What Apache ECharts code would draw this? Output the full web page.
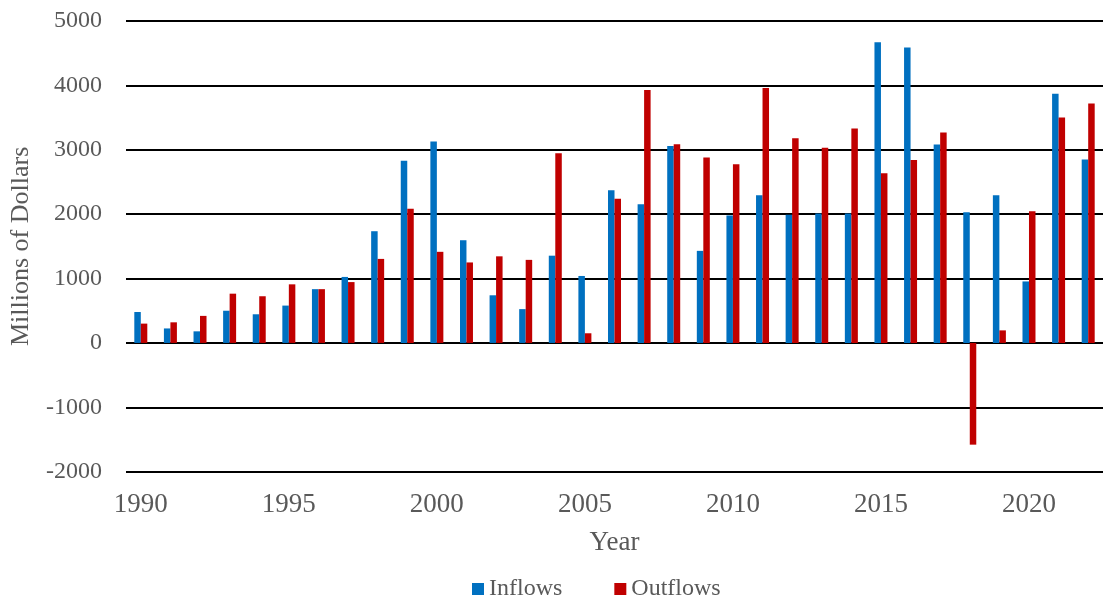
<!DOCTYPE html>
<html>
<head>
<meta charset="utf-8">
<script src="https://cdn.jsdelivr.net/npm/echarts@6/dist/echarts.min.js"></script>
<style>
  html, body { margin: 0; padding: 0; background: #ffffff; }
  #chart { width: 1103px; height: 599px; }
</style>
</head>
<body>
<div id="chart"></div>
<script>
// Annual flows, millions of dollars
const years = [];
for (let y = 1990; y <= 2022; y++) years.push(String(y));

const inflows = [480, 225, 180, 500, 445, 580, 835, 1025, 1735, 2830, 3130, 1595, 740, 525, 1355, 1040,
  2370, 2155, 3060, 1430, 1980, 2295, 1990, 2010, 2010, 4670, 4590, 3080, 2030, 2295, 955, 3870, 2850];
const outflows = [300, 320, 420, 765, 725, 910, 835, 945, 1305, 2085, 1415, 1250, 1345, 1290, 2945, 150,
  2240, 3930, 3085, 2880, 2775, 3960, 3180, 3030, 3330, 2635, 2840, 3270, -1580, 195, 2045, 3500, 3720];

const valueTicks = { min: -2000, max: 5000, interval: 1000 };

const textColor = '#595959';
const serif = '"Liberation Serif", "Times New Roman", serif';

const chart = echarts.init(document.getElementById('chart'), null, { renderer: 'canvas' });

chart.setOption({
  animation: false,
  backgroundColor: '#ffffff',
  textStyle: { fontFamily: serif, color: textColor },
  grid: { left: 123.7, top: 21, width: 986.7, bottom: 127.3, containLabel: false },
  legend: {
    data: ['Inflows', 'Outflows'],
    left: 467, top: 572,
    itemWidth: 12, itemHeight: 12, itemGap: 52,
    icon: 'rect',
    textStyle: { fontFamily: serif, fontSize: 24, color: textColor }
  },
  xAxis: {
    type: 'category',
    data: years,
    position: 'bottom',
    axisLine: { show: false, onZero: false },
    axisTick: { show: false },
    axisLabel: {
      interval: 4, margin: 20,
      fontFamily: serif, fontSize: 27, color: textColor
    },
    name: 'Year',
    nameLocation: 'middle',
    nameGap: 58,
    nameTextStyle: { fontFamily: serif, fontSize: 27, color: textColor },
    splitLine: { show: false }
  },
  yAxis: {
    type: 'value',
    min: valueTicks.min, max: valueTicks.max, interval: valueTicks.interval,
    axisLine: { show: false },
    axisTick: { show: false },
    axisLabel: {
      margin: 24, fontFamily: serif, fontSize: 24, color: textColor,
      formatter: (v) => String(v)
    },
    splitLine: { show: true, lineStyle: { color: '#000000', width: 2 } },
    name: 'Millions of Dollars',
    nameLocation: 'middle',
    nameGap: 92,
    nameTextStyle: { fontFamily: serif, fontSize: 26, color: textColor }
  },
  series: [
    {
      name: 'Inflows', type: 'bar', data: inflows,
      barWidth: 6.5, barGap: '0%',
      itemStyle: { color: '#0070C0' }
    },
    {
      name: 'Outflows', type: 'bar', data: outflows,
      barWidth: 6.5, barGap: '0%',
      itemStyle: { color: '#C00000' }
    }
  ]
});
</script>
</body>
</html>
